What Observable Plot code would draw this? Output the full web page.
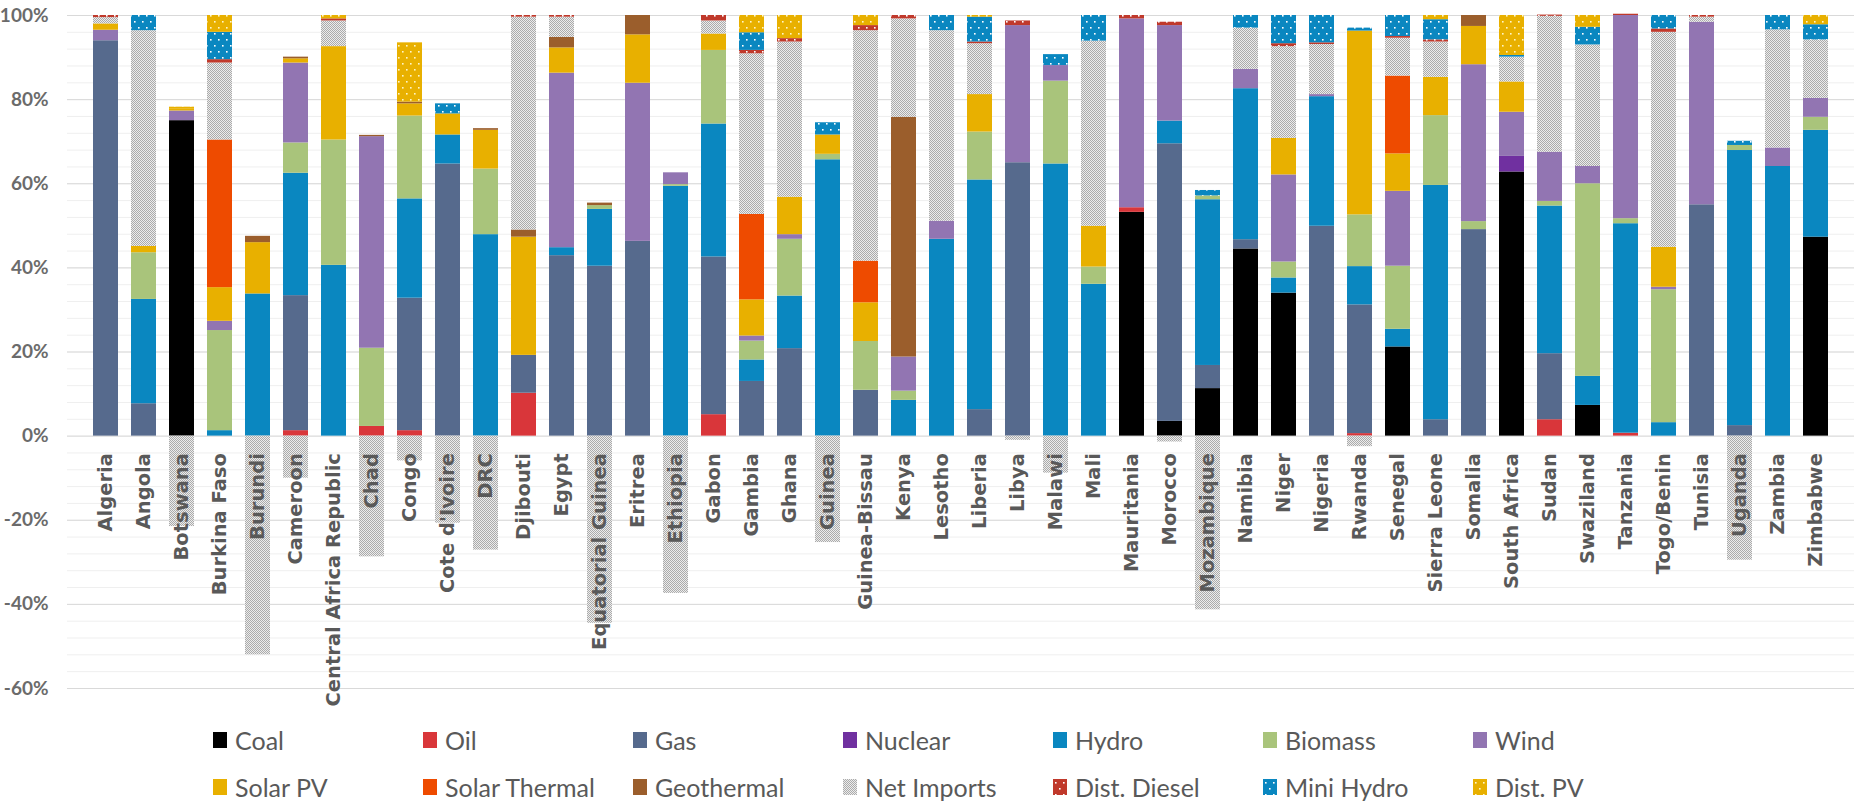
<!DOCTYPE html>
<html><head><meta charset="utf-8">
<script src="https://cdn.jsdelivr.net/npm/d3@7"></script>
<script src="https://cdn.jsdelivr.net/npm/@observablehq/plot@0.6"></script>
<style>
body{margin:0;background:#fff;}
#chart{position:relative;width:1854px;height:718px;}
#legend{position:relative;width:1854px;height:89px;}
.item{position:absolute;display:flex;align-items:center;font-family:Lato,"Open Sans",sans-serif;font-size:25px;color:#595959;white-space:nowrap;height:30px;}
.item svg{margin-right:8px;flex:none;}
</style></head><body>
<svg width="0" height="0" style="position:absolute">
 <defs>
  <pattern id="pNet" width="2" height="2" patternUnits="userSpaceOnUse">
   <rect width="2" height="2" fill="#ececec"/>
   <rect width="1" height="1" fill="#ababab"/>
   <rect x="1" y="1" width="1" height="1" fill="#ababab"/>
  </pattern>
  <pattern id="pDiesel" width="8" height="12" patternUnits="userSpaceOnUse">
   <rect width="8" height="12" fill="#c0392b"/>
   <rect x="2" y="3" width="1.6" height="1.6" fill="#fff"/>
   <rect x="6" y="9" width="1.6" height="1.6" fill="#fff"/>
  </pattern>
  <pattern id="pMini" width="8" height="12" patternUnits="userSpaceOnUse">
   <rect width="8" height="12" fill="#0a87c0"/>
   <rect x="2" y="3" width="1.6" height="1.6" fill="#fff"/>
   <rect x="6" y="9" width="1.6" height="1.6" fill="#fff"/>
  </pattern>
  <pattern id="pDistPV" width="8" height="12" patternUnits="userSpaceOnUse">
   <rect width="8" height="12" fill="#e8b000"/>
   <rect x="2" y="3" width="1.6" height="1.6" fill="#fff6c8"/>
   <rect x="6" y="9" width="1.6" height="1.6" fill="#fff6c8"/>
  </pattern>
 </defs>
</svg>
<div id="chart"></div>
<div id="legend"></div>
<script>
const countries = ["Algeria","Angola","Botswana","Burkina Faso","Burundi","Cameroon","Central Africa Republic","Chad","Congo","Cote d'Ivoire","DRC","Djibouti","Egypt","Equatorial Guinea","Eritrea","Ethiopia","Gabon","Gambia","Ghana","Guinea","Guinea-Bissau","Kenya","Lesotho","Liberia","Libya","Malawi","Mali","Mauritania","Morocco","Mozambique","Namibia","Niger","Nigeria","Rwanda","Senegal","Sierra Leone","Somalia","South Africa","Sudan","Swaziland","Tanzania","Togo/Benin","Tunisia","Uganda","Zambia","Zimbabwe"];

const seriesNames = ["Coal","Oil","Gas","Nuclear","Hydro","Biomass","Wind","Solar PV","Solar Thermal","Geothermal","Net Imports","Dist. Diesel","Mini Hydro","Dist. PV"];

const coal = [0,0,75,0,0,0,0,0,0,0, 0,0,0,0,0,0,0,0,0,0, 0,0,0,0,0,0,0,53.2,3.5,11.3, 44.5,34,0,0,21.2,0,0,62.8,0,7.3, 0,0,0,0,0,47.3];
const oil = [0,0,0,0,0,1.3,0,2.3,1.3,0, 0,10.2,0,0,0,0,5.1,0,0,0, 0,0,0,0,0,0,0,1.1,0,0, 0,0,0,0.6,0,0,0,0,3.9,0, 0.7,0,0,0,0,0];
const gas = [94,7.7,0,0,0,32.1,0,0,31.5,64.7, 0,9,42.9,40.4,46.3,0,37.5,13,20.8,0, 10.9,0,0,6.3,65,0,0,0,66,5.5, 2.2,0,49.9,30.6,0,3.9,49.1,0,15.7,0, 0,0,55,2.5,0,0];
const nuclear = [0,0,0,0,0,0,0,0,0,0, 0,0,0,0,0,0,0,0,0,0, 0,0,0,0,0,0,0,0,0,0, 0,0,0,0,0,0,0,3.7,0,0, 0,0,0,0,0,0];
const hydro = [0,24.8,0,1.3,33.8,29.1,40.6,0,23.6,6.9, 47.9,0,1.9,13.5,0,59.4,31.6,5.1,12.5,65.7, 0,8.5,46.8,54.6,0,64.7,36.1,0,5.4,39.4, 35.9,3.6,30.8,9.1,4.2,55.7,0,0,35.1,6.9, 49.8,3.2,0,65.4,64.1,25.4];
const biomass = [0,11.1,0,23.8,0,7.2,29.8,18.6,19.7,0, 15.6,0,0,0.9,0,0.4,17.5,4.5,13.5,1.3, 11.6,2.2,0,11.4,0,19.7,4.1,0,0,0.9, 0,3.8,0,12.3,15,16.6,1.9,0,1.1,45.8, 1.2,31.6,0,1.2,0,3.1];
const wind = [2.5,0,2.3,2.2,0,19,0,50.3,0,0, 0,0,41.5,0,37.6,2.8,0,1.2,1.1,0, 0,8.1,4.3,0,32.6,3.7,0,44.9,22.7,0, 4.6,20.7,0.5,0,17.8,0,37.3,10.5,11.7,4.1, 48.3,0.6,43.4,0,4.4,4.5];
const solarPV = [1.5,1.5,0.4,8,12.2,1,22.2,0,2.9,5, 9.2,28.1,6,0,11.5,0,3.9,8.6,8.9,4.6, 9.2,0,0,8.9,0,0,9.7,0,0,0, 0,8.7,0,43.7,8.9,9.1,9.1,7.2,0,0, 0,9.5,0,0,0,0];
const solarThermal = [0,0,0,35.1,0,0,0,0,0,0, 0,0,0,0,0,0,0,20.3,0,0, 9.9,0,0,0,0,0,0,0,0,0, 0,0,0,0,18.5,0,0,0,0,0, 0,0,0,0,0,0];
const geothermal = [0,0,0,0,1.5,0.4,0,0.3,0.4,0, 0.4,1.7,2.5,0.6,4.6,0,0,0,0,0, 0,57,0,0,0,0,0,0,0,0, 0,0,0,0,0,0,2.6,0,0,0, 0,0,0,0,0,0];
const netImports = [1.5,51.3,-21.5,18.3,-52,-10,6.1,-28.7,-5.9,-20.7, -27.1,50.6,4.8,-44.5,0,-37.4,3.1,38.2,36.9,-25.3, 54.8,23.4,45.3,12.1,-1,-8.8,44,0,-1.4,-41.3, 9.8,21.8,11.9,-2.5,9,8.4,0,5.9,32.3,28.9, 0,51.1,1.2,-29.5,28.1,13.9];
const distDiesel = [0.5,0,0,0.8,0,0,0.5,0,0,0, 0,0.4,0.4,0,0,0,1.3,0.8,0.8,0, 1.2,0.8,0,0.4,1.1,0,0,0.8,0.8,0, 0,0.7,0.4,0,0.4,0.5,0,0,0.3,0, 0.3,0.8,0.4,0,0,0];
const miniHydro = [0,3.6,0,6.5,0,0,0,0,0,2.4, 0,0,0,0,0,0,0,4.2,0,2.9, 0,0,3.6,5.9,0,2.6,6.1,0,0,1.3, 3,6.7,6.5,0.7,5,4.8,0,0.4,0,4.2, 0,3.2,0,1.0,3.4,3.6];
const distPV = [0,0,0.5,4,0,0,0.8,0,14.1,0, 0,0,0,0,0,0,0,4.1,5.5,0, 2.4,0,0,0.4,0,0,0,0,0,0, 0,0,0,0,0,1,0,9.5,0,2.8, 0,0,0,0,0,2.2];

const yTicks = [-60,-40,-20,0,20,40,60,80,100];
const yMinorTicks = d3.range(-60, 101, 4);

const seriesValues = [coal, oil, gas, nuclear, hydro, biomass, wind, solarPV, solarThermal, geothermal, netImports, distDiesel, miniHydro, distPV];
const seriesFills = ["#000000","#d9363a","#566a8d","#7030a0","#0a87c0","#a9c47b","#9275b2","#e8b000","#ee4b00","#9b5e2c","url(#pNet)","url(#pDiesel)","url(#pMini)","url(#pDistPV)"];

const data = [];
seriesNames.forEach((s, i) => seriesValues[i].forEach((v, j) => {
  if (v !== 0) data.push({country: countries[j], series: s, value: v});
}));

const chart = Plot.plot({
  width: 1854,
  height: 718,
  marginLeft: 67,
  marginRight: 0,
  marginTop: 15,
  marginBottom: 30,
  style: {background: "#fff", overflow: "visible"},
  x: {domain: countries, padding: 0.344, axis: null},
  y: {domain: [-60, 100]},
  color: {domain: seriesNames, range: seriesFills},
  marks: [
    Plot.ruleY(yMinorTicks, {stroke: "#efefef", strokeWidth: 1}),
    Plot.ruleY(yTicks, {stroke: "#d9d9d9", strokeWidth: 1}),
    Plot.axisY({ticks: yTicks, tickSize: 0, tickPadding: 19, tickFormat: d => d + "%", fontSize: 19, fontFamily: "Lato", fontWeight: "bold", fill: "#6b6b6b", label: null}),
    Plot.barY(data, {x: "country", y: "value", fill: "series"}),
    Plot.text(countries, {x: d => d, y: () => 0, text: d => d, rotate: -90, textAnchor: "end", dy: 17, fontSize: 19.5, fontWeight: "bold", fontFamily: "DejaVu Sans", fill: "#595959"})
  ]
});
document.getElementById("chart").appendChild(chart);

const legend = document.getElementById("legend");
seriesNames.forEach((s, i) => {
  const col = i % 7, row = Math.floor(i / 7);
  const item = document.createElement("div");
  item.className = "item";
  item.style.left = (213 + col * 210) + "px";
  item.style.top = (row === 0 ? 7 : 54) + "px";
  item.innerHTML = `<svg width="14" height="16"><rect width="14" height="16" fill="${seriesFills[i]}"/></svg><span>${s}</span>`;
  legend.appendChild(item);
});
</script>
</body></html>
